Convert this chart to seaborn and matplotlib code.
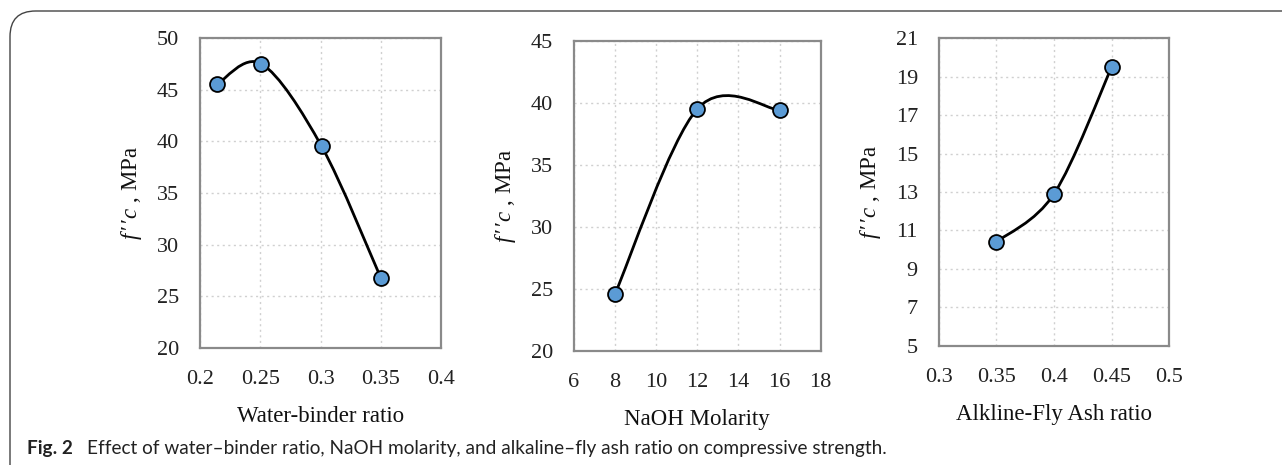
import numpy as np
import pandas as pd
import matplotlib
matplotlib.use("Agg")
import matplotlib.pyplot as plt
import seaborn as sns
from matplotlib.path import Path
from matplotlib.patches import PathPatch, FancyBboxPatch

# ---------------- data ----------------
wb_ratio = [0.214, 0.251, 0.301, 0.35]
wb_fc = [45.5, 47.5, 39.5, 26.8]

naoh_molarity = [8, 12, 16]
naoh_fc = [24.6, 39.5, 39.4]

afa_ratio = [0.35, 0.40, 0.45]
afa_fc = [10.4, 12.9, 19.5]

x_labels = ["Water-binder ratio", "NaOH Molarity", "Alkline-Fly Ash ratio"]
y_label = r"$f\,\prime\,\prime c$ , MPa"
caption_bold = "Fig. 2"
caption_text = "Effect of water\u2013binder ratio, NaOH molarity, and alkaline\u2013fly ash ratio on compressive strength."

x_ticks = [[0.2, 0.25, 0.3, 0.35, 0.4], [6, 8, 10, 12, 14, 16, 18], [0.3, 0.35, 0.4, 0.45, 0.5]]
x_ticklabels = [["0.2", "0.25", "0.3", "0.35", "0.4"],
                ["6", "8", "10", "12", "14", "16", "18"],
                ["0.3", "0.35", "0.4", "0.45", "0.5"]]
y_ticks = [[20, 25, 30, 35, 40, 45, 50], [20, 25, 30, 35, 40, 45], [5, 7, 9, 11, 13, 15, 17, 19, 21]]

# ---------------- style ----------------
sns.set_theme(style="white")
plt.rcParams["font.family"] = ["Liberation Serif", "DejaVu Serif"]
plt.rcParams["mathtext.fontset"] = "custom"
plt.rcParams["mathtext.it"] = "Liberation Serif:italic"
plt.rcParams["mathtext.rm"] = "Liberation Serif"

W, H = 1282, 465
fig = plt.figure(figsize=(W / 100, H / 100), dpi=100)

# frame (rounded, partially outside canvas)
frame = FancyBboxPatch((10 / W, -0.2), 1.2, 1 - 11 / H + 0.2,
                       boxstyle="round,pad=0,rounding_size=0.02",
                       transform=fig.transFigure, fill=False,
                       edgecolor="#444444", linewidth=1.0, mutation_aspect=W / H)
fig.patches.append(frame)

# axes boxes in pixels: left, top, right, bottom
boxes = [(200, 38, 441, 348), (574, 40.7, 820.7, 350.7), (938.7, 38.3, 1169.3, 345.7)]
xs = [wb_ratio, naoh_molarity, afa_ratio]
ys = [wb_fc, naoh_fc, afa_fc]

def smooth_path(x, y):
    pts = np.column_stack([x, y]).astype(float)
    n = len(pts)
    verts = [pts[0]]
    codes = [Path.MOVETO]
    for i in range(n - 1):
        p0 = pts[i - 1] if i > 0 else pts[i]
        p1 = pts[i]
        p2 = pts[i + 1]
        p3 = pts[i + 2] if i + 2 < n else pts[i + 1]
        c1 = p1 + (p2 - p0) / 6.0
        c2 = p2 - (p3 - p1) / 6.0
        verts += [c1, c2, p2]
        codes += [Path.CURVE4] * 3
    return Path(verts, codes)

for k in range(3):
    l, t, r, b = boxes[k]
    ax = fig.add_axes([l / W, 1 - b / H, (r - l) / W, (b - t) / H])
    df = pd.DataFrame({"x": xs[k], "y": ys[k]})
    ax.add_patch(PathPatch(smooth_path(df["x"], df["y"]), fill=False,
                           edgecolor="black", linewidth=2.0, zorder=3))
    sns.scatterplot(data=df, x="x", y="y", ax=ax, s=115, color="#5B9BD5",
                    edgecolor="black", linewidth=1.3, zorder=4, legend=False)
    ax.set_xlim(x_ticks[k][0], x_ticks[k][-1])
    ax.set_ylim(y_ticks[k][0], y_ticks[k][-1])
    ax.set_xticks(x_ticks[k])
    ax.set_xticklabels(x_ticklabels[k])
    ax.set_yticks(y_ticks[k])
    ax.grid(True, color="#d0d0d0", linestyle=(0, (1.5, 2.5)), linewidth=1.0)
    ax.set_axisbelow(True)
    for s in ax.spines.values():
        s.set_visible(True)
        s.set_color("#8a8a8a")
        s.set_linewidth(1.6)
    ax.tick_params(axis="both", length=0, labelsize=16, colors="#222222")
    ax.tick_params(axis="x", pad=16)
    ax.tick_params(axis="y", pad=15)
    ax.set_xlabel(x_labels[k], fontsize=16.5, labelpad=12, color="#111111")
    ax.set_ylabel(y_label, fontsize=16.5, labelpad=9, color="#111111")

fig.text(27 / W, 1 - 448 / H, caption_bold, fontsize=13.7, fontweight="bold",
         family=["Lato", "DejaVu Sans"], va="center", ha="left", color="#222222")
fig.text(87 / W, 1 - 448 / H, caption_text, fontsize=13.7,
         family=["Lato", "DejaVu Sans"], va="center", ha="left", color="#222222")

fig.savefig("out.png", dpi=100)
